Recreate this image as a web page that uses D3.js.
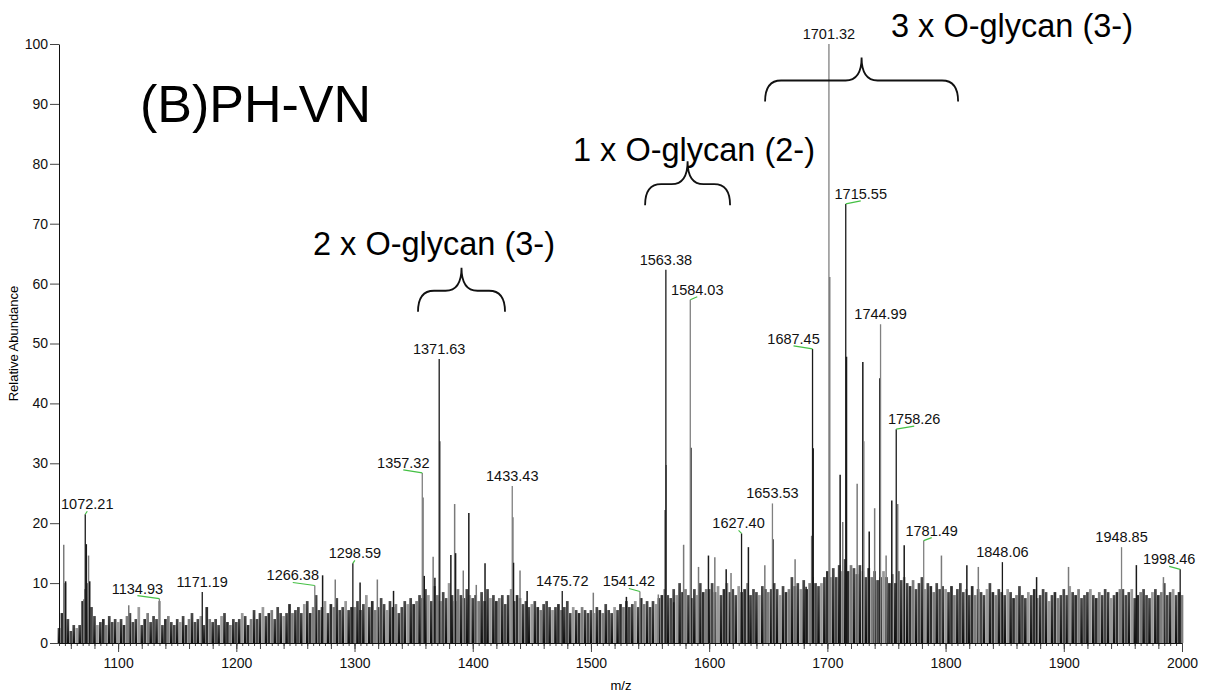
<!DOCTYPE html>
<html>
<head>
<meta charset="utf-8">
<script src="https://cdn.jsdelivr.net/npm/d3@7"></script>
<style>
  body { margin: 0; background: #fff; }
  text { font-family: "Liberation Sans", Arial, sans-serif; }
</style>
</head>
<body>
<div id="chart"></div>
<script>
// baseline noise, one value every 2.5 m/z from 1050 to 2000
const noiseStart = 1050;
const noiseStep = 2.5;
const noise = [
  2.5, 5, 10, 4, 2, 3, 2.5, 3, 7, 9, 10, 6, 4.5, 3, 3.5, 4, 3, 4.5, 3.5, 4,
  3.5, 4, 3, 4.5, 5, 3.5, 4, 6, 3, 4, 5, 3.5, 4.5, 4, 7, 3, 4, 4.5, 3.5, 3,
  4, 3.5, 4.5, 3, 4, 5, 3.5, 4, 4.5, 3, 6, 4, 3.5, 4, 3, 4.5, 5, 3.5, 3, 4,
  3.5, 4, 5, 4.5, 3, 4, 5.5, 4, 5, 6, 4.5, 5, 5.5, 4, 6, 5, 4.5, 5, 6.5, 5,
  5.5, 6, 5, 6.5, 7, 5, 6, 8, 5.5, 6, 7, 5, 6.5, 6, 7.5, 5.5, 6, 7, 5.5, 6,
  6, 7, 5.5, 6.5, 8, 6, 7, 5.5, 6, 7.5, 6.5, 5.5, 7, 6, 6.5, 5, 6, 7, 6.5, 7.5,
  6.5, 7, 8, 7.5, 9, 8, 7, 9.5, 8, 7, 8.5, 7.5, 10, 8, 7, 9, 8, 7.5, 9, 8,
  7.5, 8, 7, 8.5, 7, 9, 7.5, 8, 7, 7.5, 8, 6.5, 8, 9, 7, 8, 7.5, 6.5, 7, 6,
  6.5, 7, 6, 5.5, 6.5, 7, 6, 5.5, 6, 6.5, 5.5, 6, 7, 5, 6, 5.5, 5, 6, 5.5, 5,
  5.5, 5, 6, 5.5, 5, 6.5, 5.5, 5, 6, 5.5, 6.5, 6, 7, 6, 6.5, 7, 6, 7.5, 6.5, 7,
  6, 7, 6.5, 7.5, 8, 9, 8, 7.5, 9, 8, 10, 8.5, 9, 8, 7.5, 9, 8, 10, 8.5, 9,
  9, 10, 8.5, 9.5, 8, 9, 10, 8.5, 9, 8, 9.5, 8.5, 9, 10, 8, 9, 8.5, 8, 9.5, 9,
  8.5, 9, 10, 9, 8, 9.5, 8.5, 9, 11, 9.5, 10, 9, 10.5, 9, 10, 11, 10, 9.5, 10, 11,
  12, 11, 12.5, 11, 13, 12, 14, 12, 13, 12.5, 11.5, 13, 12, 11, 12.5, 11, 12, 10.5, 11, 12,
  11, 10, 11.5, 10, 12, 10.5, 11, 10, 9.5, 10.5, 9, 10, 11, 9, 10, 9.5, 8.5, 10, 9, 9.5,
  9, 8.5, 9.5, 8, 9, 10, 8.5, 9, 8, 9.5, 8, 9, 8.5, 8, 9, 10, 8.5, 8, 9, 8.5,
  8, 9, 8.5, 7.5, 8, 9.5, 8, 7.5, 8.5, 8, 9, 7.5, 8, 9, 8.5, 7, 8, 8.5, 7.5, 8,
  9, 8, 9.5, 8.5, 8, 9, 7.5, 8, 8.5, 9, 8, 7.5, 8.5, 8, 9, 8.5, 7.5, 8, 8.5, 9,
  9, 8, 8.5, 9, 7.5, 8, 8.5, 9, 8, 7.5, 8.5, 9, 8, 8.5, 10, 8, 8.5, 9, 8, 8.5,
  8
];

// unlabelled spikes
const spikeMz = [1054, 1055.6, 1071, 1073.1, 1075, 1076, 1109, 1273, 1283.7, 1304.7, 1319.3, 1333,
  1358, 1359, 1366.5, 1368, 1372.3, 1381.5, 1384.7, 1385.5, 1392, 1396.7, 1403, 1410.4,
  1434, 1434.5, 1440, 1446, 1502, 1530, 1557, 1562.9, 1563.7, 1570, 1578.4, 1584.6,
  1591, 1599.4, 1604.8, 1614.4, 1618.5, 1633.2, 1647.1, 1654, 1672.7, 1682, 1686.7, 1688,
  1702, 1710.8, 1713, 1716.2, 1725.2, 1730, 1730.8, 1735.4, 1740, 1744.4, 1749.7, 1754.5,
  1759.5, 1765, 1796.5, 1818, 1827.7, 1877, 1904, 1961.4, 1984.3];
const spikeInt = [16.4, 10.3, 7.3, 16.5, 14.6, 10.3, 6.3, 11.3, 10.6, 10.1, 10.6, 8.7,
  24.3, 11.2, 14.4, 10.9, 33.7, 14.7, 23.2, 15, 12.1, 21.7, 9.7, 13.3,
  21, 13.4, 12.1, 8.7, 8.4, 7.7, 8.1, 22.2, 29.7, 6.8, 16.4, 32.6,
  12.7, 14.6, 14.3, 12.3, 11.7, 16, 13, 17.3, 14, 9.4, 17.9, 32.5,
  61.1, 28.1, 20.2, 47.8, 26.6, 46.9, 33.7, 18.6, 22.5, 44.2, 14.6, 23.8,
  23.2, 16.3, 14.6, 13, 12.7, 11, 12.7, 13, 11];

// labelled peaks
const peakMz = [1072.21, 1134.93, 1171.19, 1266.38, 1298.59, 1357.32, 1371.63, 1433.43, 1475.72,
  1541.42, 1563.38, 1584.03, 1627.40, 1653.53, 1687.45, 1701.32, 1715.55, 1744.99, 1758.26,
  1781.49, 1848.06, 1948.85, 1998.46];
const peakInt = [21.5, 7.4, 8.5, 9.6, 13.3, 28.4, 47.4, 26.2, 8.7,
  8.6, 62.3, 57.3, 18.3, 23.3, 49.1, 100, 73.3, 53.2, 35.7,
  17.1, 13.5, 16, 12.3];
// label offset in px from its peak (layout only)
const labelShift = [2, -22, 0, -22, 2, -19, 0, 0, 0,
  -11, 0, 7, -3, 0, -19, 0, 15, 0, 18,
  8, 0, 0, -11];

const groupText = ["2 x O-glycan (3-)", "1 x O-glycan (2-)", "3 x O-glycan (3-)"];
const groupFrom = [1353.7, 1545.8, 1647.3];
const groupTo = [1427.3, 1617.7, 1810.6];
const groupLevel = [55.3, 73.1, 90.4];

const xMajor = d3.range(1100, 2001, 100);
const yMajor = d3.range(0, 101, 10);

const width = 1208, height = 697;
const margin = { top: 44, right: 26, bottom: 54, left: 59 };

const svg = d3.select("#chart").append("svg")
  .attr("width", width)
  .attr("height", height);

const x = d3.scaleLinear().domain([1050, 2000]).range([margin.left, width - margin.right]);
const y = d3.scaleLinear().domain([0, 100]).range([height - margin.bottom, margin.top]);

// noise bars
const grad = svg.append("defs").append("linearGradient")
  .attr("id", "ng").attr("x1", 0).attr("y1", 0).attr("x2", 0).attr("y2", 1);
grad.append("stop").attr("offset", "0%").attr("stop-color", "#4a4a4a");
grad.append("stop").attr("offset", "100%").attr("stop-color", "#0d0d0d");

const shades = ["url(#ng)", "#2e2e2e", "#7d7d7d", "url(#ng)", "#474747", "url(#ng)", "#999"];
svg.append("g")
  .selectAll("rect")
  .data(noise)
  .join("rect")
  .attr("x", (d, i) => x(noiseStart + i * noiseStep) - 1.35)
  .attr("y", d => y(d))
  .attr("width", 2.7)
  .attr("height", d => y(0) - y(d))
  .attr("fill", (d, i) => shades[i % shades.length]);

// spikes
svg.append("g")
  .selectAll("line")
  .data(spikeMz)
  .join("line")
  .attr("x1", d => x(d)).attr("x2", d => x(d))
  .attr("y1", y(0))
  .attr("y2", (d, i) => y(spikeInt[i]))
  .attr("stroke", (d, i) => i % 2 ? "#1a1a1a" : "#7a7a7a")
  .attr("stroke-width", 1.5);

// labelled peaks
svg.append("g")
  .selectAll("line")
  .data(peakMz)
  .join("line")
  .attr("x1", d => x(d)).attr("x2", d => x(d))
  .attr("y1", y(0))
  .attr("y2", (d, i) => y(peakInt[i]))
  .attr("stroke", (d, i) => i % 2 ? "#808080" : "#1a1a1a")
  .attr("stroke-width", 1.3);

// leader lines for shifted labels
svg.append("g")
  .selectAll("line")
  .data(peakMz.filter((d, i) => Math.abs(labelShift[i]) > 1))
  .join("line")
  .each(function(d) {
    const i = peakMz.indexOf(d);
    d3.select(this)
      .attr("x1", x(d) + labelShift[i]).attr("y1", y(peakInt[i]) - 3)
      .attr("x2", x(d)).attr("y2", y(peakInt[i]));
  })
  .attr("stroke", "#44c044")
  .attr("stroke-width", 1.2);

svg.append("g")
  .selectAll("text")
  .data(peakMz)
  .join("text")
  .attr("x", (d, i) => x(d) + labelShift[i])
  .attr("y", (d, i) => y(peakInt[i]) - 5)
  .attr("text-anchor", "middle")
  .attr("font-size", 14.5)
  .attr("fill", "#111")
  .text(d => d.toFixed(2));

// axes
const yAxis = svg.append("g").attr("transform", `translate(${margin.left},0)`);
yAxis.call(d3.axisLeft(y).tickValues(d3.range(0, 101, 2)).tickSize(6).tickFormat("").tickSizeOuter(0));
yAxis.call(d3.axisLeft(y).tickValues(yMajor).tickSize(9).tickPadding(2).tickSizeOuter(0));
yAxis.selectAll("text").attr("font-size", 14).attr("fill", "#111");
yAxis.selectAll("line").attr("stroke", "#444");

const xAxis = svg.append("g").attr("transform", `translate(0,${y(0)})`);
xAxis.call(d3.axisBottom(x).tickValues(d3.range(1050, 2001, 5)).tickSize(3).tickFormat("").tickSizeOuter(0));
xAxis.append("g").call(d3.axisBottom(x).tickValues(d3.range(1060, 2001, 20)).tickSize(6).tickFormat("").tickSizeOuter(0));
xAxis.append("g").call(d3.axisBottom(x).tickValues(xMajor).tickSize(9).tickPadding(6)
  .tickFormat(d3.format("d")).tickSizeOuter(0));
xAxis.selectAll("text").attr("font-size", 14).attr("fill", "#111");
xAxis.selectAll("line").attr("stroke", "#444");
svg.selectAll(".domain").attr("stroke", "#111");

svg.append("text")
  .attr("x", 621).attr("y", 690)
  .attr("text-anchor", "middle").attr("font-size", 13)
  .text("m/z");
svg.append("text")
  .attr("transform", `translate(18,${y(50)}) rotate(-90)`)
  .attr("text-anchor", "middle").attr("font-size", 13)
  .text("Relative Abundance");

// title
svg.append("text")
  .attr("x", 140).attr("y", 122)
  .attr("font-size", 52)
  .text("(B)PH-VN");

// glycan braces
function brace(x0, x1, yEnd) {
  const xm = (x0 + x1) / 2, yBar = yEnd - 21, yTip = yEnd - 44, r = 16;
  return `M${x0},${yEnd} Q${x0},${yBar} ${x0 + r},${yBar} L${xm - r},${yBar} ` +
    `Q${xm},${yBar} ${xm},${yTip} Q${xm},${yBar} ${xm + r},${yBar} ` +
    `L${x1 - r},${yBar} Q${x1},${yBar} ${x1},${yEnd}`;
}
groupText.forEach((t, i) => {
  const x0 = x(groupFrom[i]), x1 = x(groupTo[i]), yEnd = y(groupLevel[i]);
  svg.append("path")
    .attr("d", brace(x0, x1, yEnd))
    .attr("fill", "none").attr("stroke", "#111").attr("stroke-width", 1.8);
});
svg.append("text").attr("x", 313).attr("y", 255).attr("font-size", 32.5).text(groupText[0]);
svg.append("text").attr("x", 573).attr("y", 161).attr("font-size", 32.5).text(groupText[1]);
svg.append("text").attr("x", 891).attr("y", 37).attr("font-size", 32.5).text(groupText[2]);
</script>
</body>
</html>
